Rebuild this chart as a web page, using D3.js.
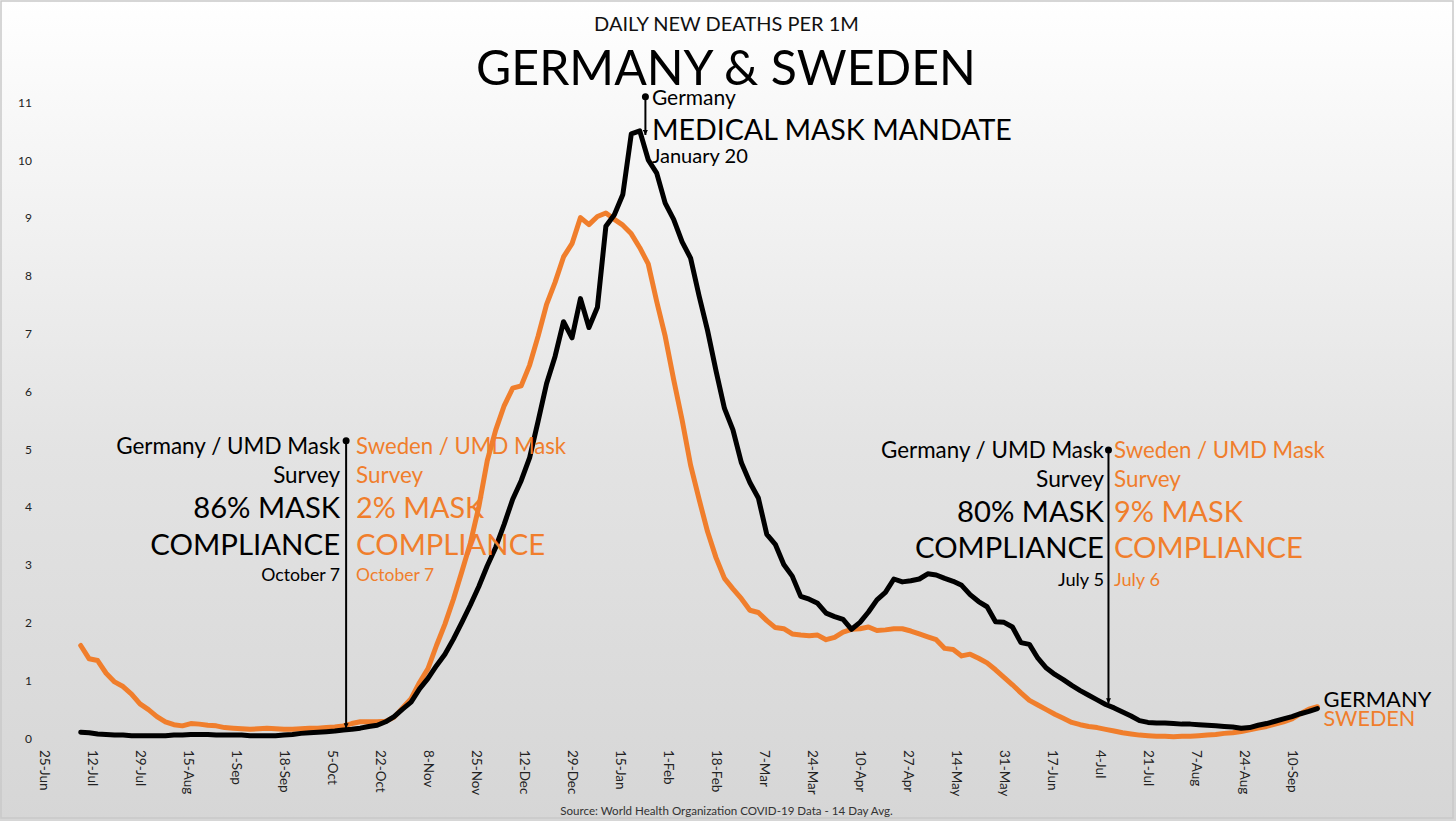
<!DOCTYPE html>
<html>
<head>
<meta charset="utf-8">
<script src="https://cdn.jsdelivr.net/npm/d3@7"></script>
<style>
  html, body { margin: 0; padding: 0; background: #fff; }
  svg { display: block; }
</style>
</head>
<body>
<svg id="chart" width="1456" height="821"></svg>
<script>
// ---------------- DATA ----------------
const seriesStart = "2020-07-08";   // first data point
const seriesStepDays = 3;           // spacing of data points

const germany = [
  0.10,0.09,0.07,0.06,0.05,0.05,0.04,0.04,0.04,0.04,
  0.04,0.05,0.05,0.06,0.06,0.06,0.05,0.05,0.05,0.05,
  0.04,0.04,0.04,0.04,0.05,0.06,0.08,0.09,0.10,0.11,
  0.12,0.14,0.15,0.17,0.20,0.22,0.28,0.37,0.50,0.62,
  0.85,1.03,1.25,1.45,1.71,2.00,2.30,2.62,2.98,3.30,
  3.70,4.13,4.45,4.85,5.48,6.13,6.60,7.20,6.92,7.60,
  7.10,7.45,8.85,9.05,9.40,10.45,10.50,10.00,9.77,9.25,
  8.97,8.58,8.30,7.65,7.05,6.35,5.70,5.33,4.76,4.42,
  4.15,3.52,3.35,3.00,2.80,2.45,2.40,2.33,2.16,2.10,
  2.05,1.88,2.00,2.18,2.39,2.52,2.75,2.70,2.72,2.75,
  2.84,2.82,2.76,2.71,2.64,2.48,2.36,2.27,2.01,2.00,
  1.92,1.65,1.62,1.38,1.21,1.10,1.01,0.91,0.82,0.74,
  0.66,0.58,0.52,0.45,0.38,0.30,0.27,0.26,0.26,0.25,
  0.24,0.24,0.23,0.22,0.21,0.20,0.19,0.17,0.18,0.22,
  0.25,0.29,0.33,0.37,0.42,0.46,0.51
];

const sweden = [
  1.60,1.37,1.34,1.12,0.97,0.89,0.76,0.59,0.49,0.37,
  0.28,0.23,0.21,0.25,0.24,0.22,0.21,0.18,0.17,0.16,
  0.15,0.16,0.17,0.16,0.15,0.15,0.16,0.17,0.17,0.18,
  0.19,0.21,0.25,0.28,0.28,0.28,0.29,0.36,0.52,0.68,
  0.96,1.20,1.60,1.97,2.40,2.88,3.37,4.00,4.80,5.33,
  5.75,6.05,6.09,6.45,6.95,7.50,7.88,8.32,8.55,9.00,
  8.88,9.02,9.08,8.97,8.87,8.72,8.48,8.20,7.55,6.95,
  6.20,5.50,4.72,4.13,3.57,3.12,2.76,2.58,2.41,2.21,
  2.17,2.03,1.91,1.89,1.80,1.78,1.77,1.78,1.70,1.74,
  1.83,1.88,1.89,1.92,1.86,1.87,1.89,1.89,1.85,1.80,
  1.75,1.70,1.55,1.53,1.42,1.45,1.38,1.30,1.18,1.05,
  0.92,0.78,0.65,0.57,0.49,0.41,0.34,0.27,0.23,0.20,
  0.18,0.15,0.12,0.09,0.07,0.05,0.04,0.03,0.03,0.02,
  0.03,0.03,0.04,0.05,0.06,0.08,0.09,0.11,0.14,0.17,
  0.20,0.24,0.28,0.33,0.42,0.50,0.54
];

const xTickDates = [
  "2020-06-25","2020-07-12","2020-07-29","2020-08-15","2020-09-01","2020-09-18",
  "2020-10-05","2020-10-22","2020-11-08","2020-11-25","2020-12-12","2020-12-29",
  "2021-01-15","2021-02-01","2021-02-18","2021-03-07","2021-03-24","2021-04-10",
  "2021-04-27","2021-05-14","2021-05-31","2021-06-17","2021-07-04","2021-07-21",
  "2021-08-07","2021-08-24","2021-09-10"
];
const yTickValues = [0,1,2,3,4,5,6,7,8,9,10,11];

const titleSmall = "DAILY NEW DEATHS PER 1M";
const titleBig = "GERMANY & SWEDEN";
const sourceText = "Source: World Health Organization COVID-19 Data - 14 Day Avg.";
const seriesNames = ["GERMANY", "SWEDEN"];

// survey annotations: anchor date, value at dot, value at arrow tip
const surveyDates = ["2020-10-10", "2021-07-07"];
const surveyTop = [5.14, 4.98];
const surveyTip = [0.17, 0.60];
const surveyGermanyText = [
  ["Germany / UMD Mask","Survey","86% MASK","COMPLIANCE","October 7"],
  ["Germany / UMD Mask","Survey","80% MASK","COMPLIANCE","July 5"]
];
const surveySwedenText = [
  ["Sweden / UMD Mask","Survey","2% MASK","COMPLIANCE","October 7"],
  ["Sweden / UMD Mask","Survey","9% MASK","COMPLIANCE","July 6"]
];

// mandate annotation
const mandateDate = "2021-01-24";
const mandateTop = 11.09;
const mandateTip = 10.43;
const mandateText = ["Germany", "MEDICAL MASK MANDATE", "January 20"];

// ---------------- LAYOUT / STYLE ----------------
const W = 1456, H = 821;
const FONT = "Lato, 'Noto Sans', sans-serif";
const ORANGE = "#F07E2C";
const parse = d3.utcParse("%Y-%m-%d");

const svg = d3.select("#chart");

// background gradient
const defs = svg.append("defs");
const grad = defs.append("linearGradient").attr("id","bg").attr("x1",0).attr("y1",0).attr("x2",0).attr("y2",1);
grad.append("stop").attr("offset","0%").attr("stop-color","#ffffff");
grad.append("stop").attr("offset","55%").attr("stop-color","#e3e3e3");
grad.append("stop").attr("offset","100%").attr("stop-color","#d6d6d6");
svg.append("rect").attr("x",0).attr("y",0).attr("width",W).attr("height",H).attr("fill","url(#bg)");
svg.append("rect").attr("x",1).attr("y",1).attr("width",W-4).attr("height",H-4)
  .attr("fill","none").attr("stroke","#c9c9c9").attr("stroke-width",1.5);

defs.append("marker").attr("id","arrow").attr("viewBox","0 0 10 10")
  .attr("refX",10).attr("refY",5).attr("markerWidth",5).attr("markerHeight",5)
  .attr("markerUnits","userSpaceOnUse")
  .attr("orient","auto")
  .append("path").attr("d","M0,0 L10,5 L0,10 Z").attr("fill","#000");

// scales
const x = d3.scaleUtc().domain([parse("2020-06-25"), parse("2021-09-10")]).range([44, 1292]);
const y = d3.scaleLinear().domain([0, 11]).range([738, 102]);

// helper to fit text to a measured width
function fit(sel, width) {
  const fs = parseFloat(sel.attr("font-size"));
  const L = sel.node().getComputedTextLength();
  if (L > 0) sel.attr("font-size", fs * width / L);
  return sel;
}
function addText(txt, px, py, size, width, anchor, color) {
  const t = svg.append("text").attr("x", px).attr("y", py)
    .attr("font-family", FONT).attr("font-size", size)
    .attr("text-anchor", anchor || "start").attr("fill", color || "#000").text(txt);
  if (width) fit(t, width);
  return t;
}

// titles
addText(titleSmall, 726.5, 31, 17, 265, "middle", "#111");
addText(titleBig, 726, 85, 46, 500, "middle", "#000");

// y axis
const yAxis = svg.append("g").attr("transform","translate(32,0)")
  .call(d3.axisLeft(y).tickValues(yTickValues).tickSize(0).tickPadding(0));
yAxis.select(".domain").remove();
yAxis.selectAll("text").attr("font-family", FONT).attr("font-size", 12).attr("fill","#222").attr("dy","0.35em");

// x axis
const fmt = d3.utcFormat("%-d-%b");
const xAxis = svg.append("g").attr("transform","translate(0,749)")
  .call(d3.axisBottom(x).tickValues(xTickDates.map(parse)).tickSize(0).tickFormat(fmt));
xAxis.select(".domain").remove();
xAxis.selectAll("text")
  .attr("font-family", FONT).attr("font-size", 13.5).attr("fill","#222")
  .attr("x", 1).attr("y", 0).attr("dy","0.35em")
  .attr("transform","rotate(90)").style("text-anchor","start");

// series
const dates = germany.map((_, i) => d3.utcDay.offset(parse(seriesStart), i * seriesStepDays));
const line = d3.line().x((d, i) => x(dates[i])).y(d => y(d)).curve(d3.curveLinear);

svg.append("path").datum(sweden).attr("d", line)
  .attr("fill","none").attr("stroke", ORANGE).attr("stroke-width", 5)
  .attr("stroke-linejoin","round").attr("stroke-linecap","round");
svg.append("path").datum(germany).attr("d", line)
  .attr("fill","none").attr("stroke", "#000").attr("stroke-width", 5)
  .attr("stroke-linejoin","round").attr("stroke-linecap","round");

// end labels
const lastX = x(dates[dates.length - 1]);
addText(seriesNames[0], lastX + 6, 707, 20, 108, "start", "#000");
addText(seriesNames[1], lastX + 6, 726, 20, 92, "start", ORANGE);

// survey annotations
const blockBase = [
  [454, 482.7, 517.7, 555, 581],
  [458.3, 486.7, 521.7, 558.3, 585.7]
];
const blockLeftGap = [6, 4.5];
const blockRightGap = [10, 5.5];
const leftWidths = [[224, 67, 147, 190, 79], [223, 68, 147, 189, 46]];
const rightWidths = [[210, 67, 128, 189, 78], [211, 67, 129, 189, 46]];
const lineSizes = [19, 19, 27, 27, 15];

surveyDates.forEach((ds, k) => {
  const ax = x(parse(ds));
  svg.append("line").attr("x1", ax).attr("x2", ax)
    .attr("y1", y(surveyTop[k])).attr("y2", y(surveyTip[k]))
    .attr("stroke","#000").attr("stroke-width", 2).attr("marker-end","url(#arrow)");
  svg.append("circle").attr("cx", ax).attr("cy", y(surveyTop[k])).attr("r", 3.5).attr("fill","#000");
  surveyGermanyText[k].forEach((t, j) => {
    addText(t, ax - blockLeftGap[k], blockBase[k][j], lineSizes[j], leftWidths[k][j], "end", "#000");
  });
  surveySwedenText[k].forEach((t, j) => {
    addText(t, ax + blockRightGap[k], blockBase[k][j], lineSizes[j], rightWidths[k][j], "start", ORANGE);
  });
});

// mandate annotation
const mx = x(parse(mandateDate));
svg.append("line").attr("x1", mx).attr("x2", mx)
  .attr("y1", y(mandateTop)).attr("y2", y(mandateTip))
  .attr("stroke","#000").attr("stroke-width", 2).attr("marker-end","url(#arrow)");
svg.append("circle").attr("cx", mx).attr("cy", y(mandateTop)).attr("r", 3.5).attr("fill","#000");
addText(mandateText[0], mx + 6.5, 105, 18, 84, "start", "#000");
addText(mandateText[1], mx + 6.5, 140, 30, 360, "start", "#000");
addText(mandateText[2], mx + 6.5, 163, 15, 96, "start", "#000");

// source
addText(sourceText, 726.5, 815, 11, 333, "middle", "#333");
</script>
</body>
</html>
